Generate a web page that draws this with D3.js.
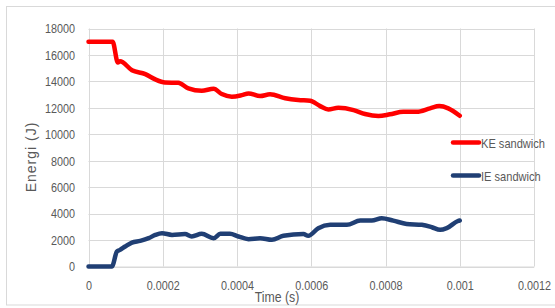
<!DOCTYPE html>
<html>
<head>
<meta charset="utf-8">
<script src="https://cdn.jsdelivr.net/npm/d3@7"></script>
<style>
  html, body { margin: 0; padding: 0; background: #fff; }
  svg text { font-family: "Liberation Sans", Arial, sans-serif; fill: #595959; }
</style>
</head>
<body>
<svg id="chart" width="555" height="308"></svg>
<script>
// time (s) and energy (J)
const keTime = [0, 0.000065, 0.000079, 0.000085, 0.000117, 0.000153, 0.00018, 0.000206, 0.000242, 0.000269,
  0.000305, 0.000337, 0.000359, 0.000386, 0.000413, 0.000431, 0.000462, 0.000489, 0.00053, 0.000565,
  0.000597, 0.000624, 0.000646, 0.000673, 0.000714, 0.000745, 0.000781, 0.000812, 0.000848, 0.000884,
  0.00092, 0.000945, 0.000969, 0.001]
const keValues = [17000, 17000, 15430, 15530, 14850, 14550, 14150, 13920, 13890, 13470,
  13290, 13440, 13040, 12840, 12960, 13090, 12890, 13020, 12720, 12590,
  12540, 12130, 11880, 12000, 11830, 11530, 11380, 11510, 11700, 11700,
  11960, 12130, 11960, 11400]

const ieTime = [0, 0.000063, 0.0000765, 0.000085, 0.0000988, 0.000117, 0.000139, 0.000162, 0.00018, 0.000198,
  0.000225, 0.00026, 0.000278, 0.000305, 0.000337, 0.000355, 0.000381, 0.000404, 0.000431, 0.000462,
  0.000494, 0.000525, 0.000579, 0.000592, 0.000619, 0.000651, 0.000696, 0.000732, 0.000763, 0.00079,
  0.000821, 0.000857, 0.000898, 0.000925, 0.000947, 0.000965, 0.000996, 0.001]
const ieValues = [0, 0, 1130, 1260, 1510, 1810, 1940, 2140, 2390, 2520,
  2390, 2450, 2270, 2470, 2140, 2470, 2470, 2270, 2070, 2140,
  2020, 2320, 2450, 2320, 2900, 3150, 3150, 3470, 3470, 3650,
  3470, 3220, 3150, 2970, 2770, 2900, 3450, 3480]

const xTicks = [0, 0.0002, 0.0004, 0.0006, 0.0008, 0.001, 0.0012]
const xTickLabels = ['0', '0.0002', '0.0004', '0.0006', '0.0008', '0.001', '0.0012']
const yTicks = [0, 2000, 4000, 6000, 8000, 10000, 12000, 14000, 16000, 18000]
const seriesNames = ['KE sandwich', 'IE sandwich']
const seriesColors = ['#ff0000', '#203f74']

// squeeze text to look like the narrow office font
function condense(sel, k) {
  sel.each(function () {
    const len = this.getComputedTextLength()
    d3.select(this).attr('textLength', len * k).attr('lengthAdjust', 'spacingAndGlyphs')
  })
}

const svg = d3.select('#chart')

// chart border
svg.append('rect')
  .attr('x', 6.5).attr('y', 6.5)
  .attr('width', 560).attr('height', 298.5)
  .attr('fill', 'none').attr('stroke', '#d9d9d9')

const x = d3.scaleLinear().domain([0, 0.0012]).range([88.5, 534])
const y = d3.scaleLinear().domain([0, 18000]).range([266.5, 28.5])

// gridlines
svg.append('g').selectAll('line').data(yTicks).join('line')
  .attr('x1', x(0)).attr('x2', x(0.0012))
  .attr('y1', d => Math.round(y(d)) + 0.5).attr('y2', d => Math.round(y(d)) + 0.5)
  .attr('stroke', '#d9d9d9')
svg.append('g').selectAll('line').data(xTicks).join('line')
  .attr('x1', d => Math.round(x(d)) + 0.5).attr('x2', d => Math.round(x(d)) + 0.5)
  .attr('y1', y(18000)).attr('y2', y(0))
  .attr('stroke', '#d9d9d9')

// axes (labels only, no tick marks)
const yAxis = svg.append('g')
  .attr('transform', 'translate(79,0)')
  .call(d3.axisLeft(y).tickValues(yTicks).tickSize(0).tickPadding(4).tickFormat(d3.format('d')))
yAxis.select('.domain').remove()
yAxis.selectAll('text').attr('font-size', 13.5).attr('fill', '#595959')
  .style('font-family', '"Liberation Sans", Arial, sans-serif')
  .call(condense, 0.8)

const xAxis = svg.append('g')
  .attr('transform', `translate(0,${y(0)})`)
  .call(d3.axisBottom(x).tickValues(xTicks).tickSize(0).tickPadding(14).tickFormat((d, i) => xTickLabels[i]))
xAxis.select('.domain').attr('stroke', '#d9d9d9')
xAxis.selectAll('text').attr('font-size', 13.5).attr('fill', '#595959')
  .style('font-family', '"Liberation Sans", Arial, sans-serif')
  .call(condense, 0.8)

// lines
const line = d3.line().x(d => x(d[0])).y(d => y(d[1])).curve(d3.curveMonotoneX)
const series = [d3.zip(keTime, keValues), d3.zip(ieTime, ieValues)]
series.forEach((data, i) => {
  svg.append('path')
    .datum(data)
    .attr('d', line)
    .attr('fill', 'none')
    .attr('stroke', seriesColors[i])
    .attr('stroke-width', 4.5)
    .attr('stroke-linejoin', 'round')
    .attr('stroke-linecap', 'round')
})

// axis titles
svg.append('text')
  .attr('transform', 'translate(36,157) rotate(-90)')
  .attr('text-anchor', 'middle')
  .attr('font-size', 14)
  .attr('letter-spacing', 1)
  .text('Energi (J)')
svg.append('text')
  .attr('x', 277).attr('y', 302)
  .attr('text-anchor', 'middle')
  .attr('font-size', 14.5)
  .text('Time (s)')
  .call(condense, 0.85)

// legend
const legend = svg.append('g')
seriesNames.forEach((name, i) => {
  const ly = 142.5 + i * 33
  legend.append('line')
    .attr('x1', 453).attr('x2', 479)
    .attr('y1', ly).attr('y2', ly)
    .attr('stroke', seriesColors[i])
    .attr('stroke-width', 4.5)
    .attr('stroke-linecap', 'round')
  legend.append('text')
    .attr('x', 481).attr('y', ly + 5)
    .attr('font-size', 13.5)
    .text(name)
    .call(condense, 0.82)
})
</script>
</body>
</html>
